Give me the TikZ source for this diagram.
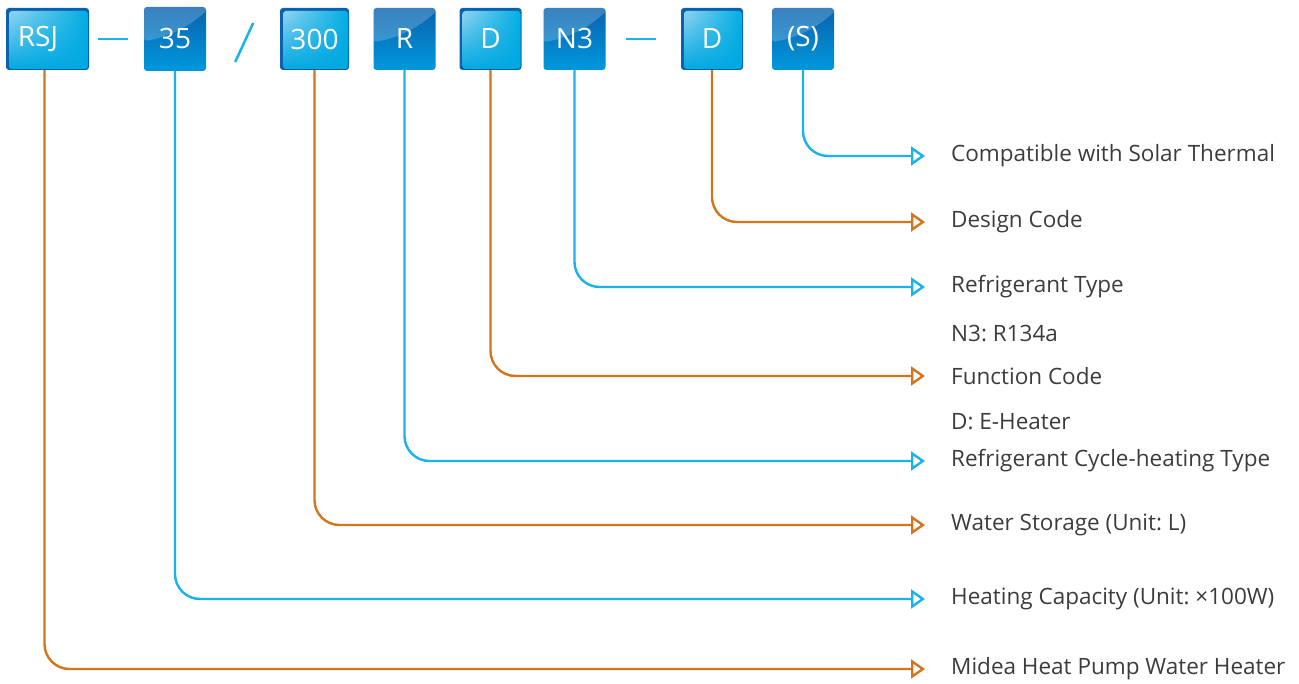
\documentclass[tikz,border=0pt]{standalone}
\usepackage{fontspec}
\setmainfont{Open Sans}
\usetikzlibrary{arrows.meta,positioning,shadings}
\definecolor{lineblue}{HTML}{1AB2EA}
\definecolor{lineorange}{HTML}{D4751E}
\definecolor{tagdark}{HTML}{0A62AE}
\definecolor{taglight}{HTML}{0098DC}
\definecolor{txtgray}{HTML}{3C3C3C}
\tikzset{
    tag/.style={rounded corners=3pt, minimum width=62pt, minimum height=62pt,
        inner sep=0pt, text=white, font=\fontsize{28}{30}\selectfont},
    tagA/.style={tag, top color=tagdark, bottom color=taglight,
        path picture={
            \fill[white, opacity=.2]
                (path picture bounding box.north west)
                -- ([yshift=-34pt]path picture bounding box.north west)
                .. controls ([shift={(26pt,-30pt)}]path picture bounding box.north west)
                and ([shift={(48pt,-18pt)}]path picture bounding box.north west)
                .. ([xshift=4pt]path picture bounding box.north east) -- cycle;
        }},
    tagB/.style={tag, fill=tagdark,
        path picture={
            \shade[upper left=white!62!taglight, upper right=taglight!80!cyan,
                lower left=taglight!85!cyan, lower right=taglight!85!cyan]
                ([shift={(3pt,-3pt)}]path picture bounding box.north west)
                rectangle ([shift={(-1pt,1pt)}]path picture bounding box.south east);
        }},
    lbl/.style={anchor=west, inner sep=0pt, text=txtgray, font=\fontsize{22.5}{25}\selectfont},
    sep/.style={draw=lineblue, line width=2.5pt},
    bline/.style={draw=lineblue, line width=2.4pt, rounded corners=25pt,
        -{Triangle[open, length=14pt, width=19pt]}, shorten >=26pt},
    oline/.style={bline, draw=lineorange}
}
\frenchspacing
\begin{document}
\begin{tikzpicture}[x=1pt, y=-1pt]
    \useasboundingbox (0,0) rectangle (1299,684);
    % code boxes
    \node[tagB, minimum width=83pt] (rsj) at (47.5,39) {\kern-19pt RSJ};
    \node[tagA, minimum height=64pt] (c35) at (175,39) {35};
    \node[tagB, minimum width=69pt] (s300) at (314.5,39) {300};
    \node[tagA] (r) at (404.5,39) {R};
    \node[tagB] (d) at (490.5,39) {D};
    \node[tagA] (n3) at (574.5,39) {N3};
    \node[tagB] (d2) at (712,39) {D};
    \node[tagA] (sol) at (803,39) {(S)};
    \draw[sep] ([xshift=9pt]rsj.east) -- ([xshift=-16pt]c35.west);
    \draw[sep] ([xshift=29pt,yshift=-23pt]c35.east) -- ([xshift=47pt,yshift=16pt]c35.east);
    \draw[sep] ([xshift=20pt]n3.east) -- ([xshift=-25pt]d2.west);
    % meanings
    \node[lbl] (lsol) at (951,156) {Compatible with Solar Thermal};
    \node[lbl] (ldes) at (951,222) {Design Code};
    \node[lbl] (lref) at (951,287) {Refrigerant Type};
    \node[lbl] (ln3) at (951,334) {N3: R134a};
    \node[lbl] (lfun) at (951,376) {Function Code};
    \node[lbl] (lheat) at (951,422) {D: E-Heater};
    \node[lbl] (lcyc) at (951,461) {Refrigerant Cycle-heating Type};
    \node[lbl] (lwat) at (951,525) {Water Storage (Unit: L)};
    \node[lbl] (lcap) at (951,599) {Heating Capacity (Unit: ×100W)};
    \node[lbl] (lmid) at (951,669) {Midea Heat Pump Water Heater};
    % connectors
    \draw[bline] (sol.south) |- (lsol.west);
    \draw[oline] (d2.south) |- (ldes.west);
    \draw[bline] (n3.south) |- (lref.west);
    \draw[oline] (d.south) |- (lfun.west);
    \draw[bline] (r.south) |- (lcyc.west);
    \draw[oline] (s300.south) |- (lwat.west);
    \draw[bline] (c35.south) |- (lcap.west);
    \draw[oline] ([xshift=-3pt]rsj.south) |- (lmid.west);
\end{tikzpicture}
\end{document}
